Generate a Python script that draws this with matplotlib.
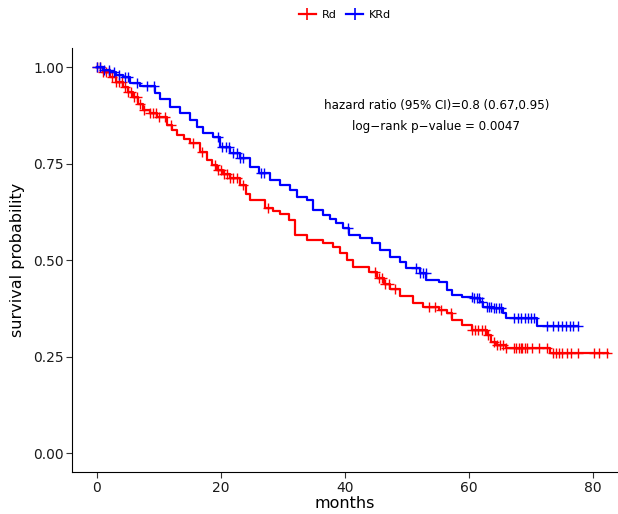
import numpy as np
import matplotlib
matplotlib.use("Agg")
import matplotlib.pyplot as plt

# step points of the Kaplan-Meier curves (months, survival)
rd_t = [0, 1.0, 2.1, 3.0, 4.2, 5.0, 5.8, 6.6, 7.4, 8.5, 9.7, 11.3, 12.1, 12.9, 14.0, 15.0,
        16.6, 17.7, 18.5, 19.3, 20.3, 21.4, 23.0, 24.0, 24.6, 27.1, 28.3, 29.5, 31.0,
        32.0, 33.8, 36.4, 38.0, 39.1, 40.3, 41.2, 43.9, 45.1, 46.2, 47.2, 48.8, 50.9,
        52.5, 55.2, 56.4, 57.3, 58.9, 60.5, 62.8, 63.6, 64.4, 66.0, 73.1]
rd_s = [1.0, 0.987, 0.974, 0.961, 0.948, 0.935, 0.922, 0.905, 0.889, 0.880, 0.870, 0.850,
        0.837, 0.824, 0.813, 0.803, 0.780, 0.759, 0.746, 0.733, 0.722, 0.712, 0.694, 0.672,
        0.655, 0.635, 0.627, 0.619, 0.604, 0.565, 0.552, 0.544, 0.534, 0.518, 0.500, 0.482,
        0.469, 0.453, 0.439, 0.425, 0.407, 0.389, 0.378, 0.370, 0.363, 0.345, 0.332, 0.319,
        0.306, 0.288, 0.280, 0.272, 0.259]
rd_end = 82.4

krd_t = [0, 1.0, 2.1, 3.1, 4.2, 5.3, 6.9, 9.3, 10.1, 11.8, 13.4, 15.0, 16.1, 17.1, 18.7,
         19.8, 21.4, 23.0, 24.6, 26.2, 27.9, 29.5, 31.1, 32.2, 33.8, 34.8, 36.4, 37.5,
         38.6, 39.6, 40.7, 42.4, 44.4, 45.6, 47.2, 48.8, 49.9, 52.0, 53.1, 55.2, 56.4,
         57.3, 58.9, 60.5, 61.7, 62.2, 63.8, 65.4, 66.0, 71.0]
krd_s = [1.0, 0.993, 0.987, 0.980, 0.974, 0.959, 0.951, 0.933, 0.917, 0.896, 0.881, 0.863,
         0.845, 0.829, 0.819, 0.793, 0.777, 0.764, 0.741, 0.725, 0.707, 0.694, 0.681, 0.663,
         0.655, 0.630, 0.617, 0.606, 0.595, 0.583, 0.565, 0.557, 0.544, 0.526, 0.508, 0.495,
         0.479, 0.466, 0.448, 0.443, 0.422, 0.409, 0.404, 0.402, 0.391, 0.378, 0.376, 0.363,
         0.350, 0.329]
krd_end = 77.5

# censoring times
rd_cens = [0, 0.5, 1, 1.5, 2, 2.5, 3, 3.5, 4, 4.5, 5, 5.5, 6, 6.5, 7, 7.5, 8.5, 9, 9.5, 10,
           11, 12, 15.5, 17, 19, 19.5, 20, 20.5, 21, 21.5, 22, 22.5, 23.5, 27.5, 44.8, 45.5,
           46, 46.5, 47, 48, 53.5, 54.5, 55.5, 57, 60.5, 61, 61.5, 62, 62.5, 63, 64, 64.5,
           65, 65.5, 66, 67.3, 67.6, 68, 68.3, 68.6, 69, 69.3, 70.2, 71.3, 72.5, 73.5, 74,
           74.5, 75, 75.7, 76.5, 77.5, 80.2, 81, 82.3]
krd_cens = [0, 0.5, 1.2, 2, 2.8, 3.5, 4.5, 5, 6.5, 8, 9.2, 19.5, 20.2, 20.8, 21.3, 22, 22.5,
            23, 23.5, 26.5, 27, 40.5, 51.5, 52, 52.5, 53, 60.4, 60.8, 61.2, 61.6, 62, 62.8,
            63.2, 63.6, 64, 64.4, 64.8, 65.2, 67.3, 67.8, 68.4, 69, 69.5, 70, 70.5, 72.6,
            73.5, 74.3, 75, 75.6, 76.2, 76.8, 77.5]


def surv_at(t, times, surv):
    idx = np.searchsorted(times, t, side='right') - 1
    return np.array(surv)[idx]


fig = plt.figure(figsize=(6.18, 5.14), dpi=100)
ax = fig.add_axes([0.1168, 0.0811, 0.8832, 0.826])

groups = [('Rd', rd_t, rd_s, rd_end, rd_cens, '#FF0000'),
          ('KRd', krd_t, krd_s, krd_end, krd_cens, '#0000FF')]
handles = []
for name, t, s, end, cens, col in groups:
    ax.step(t + [end], s + [s[-1]], where='post', color=col, lw=1.6)
    ax.plot(cens, surv_at(cens, t, s), ls='none', marker='+', ms=6.5, mew=1.0, color=col)
    h, = ax.plot([], [], color=col, lw=1.6, marker='+', ms=8, mew=1.2)
    handles.append(h)

ax.set_xlim(-4, 84)
ax.set_ylim(-0.05, 1.05)
ax.set_xticks([0, 20, 40, 60, 80])
ax.set_yticks([0, 0.25, 0.5, 0.75, 1.0])
ax.set_yticklabels(['0.00', '0.25', '0.50', '0.75', '1.00'])
ax.tick_params(labelsize=10, length=4, pad=2, color='#333333', labelcolor='#1a1a1a')
for side in ['top', 'right']:
    ax.spines[side].set_visible(False)
ax.set_xlabel('months', fontsize=11.5, labelpad=1)
ax.set_ylabel('survival probability', fontsize=11.5, labelpad=6)

ax.text(54.7, 0.90, 'hazard ratio (95% CI)=0.8 (0.67,0.95)', ha='center', va='center', fontsize=8.6)
ax.text(54.7, 0.847, 'log\u2212rank p\u2212value = 0.0047', ha='center', va='center', fontsize=8.6)

fig.legend(handles, ['Rd', 'KRd'], loc='center', bbox_to_anchor=(0.558, 0.971), ncol=2,
           frameon=False, fontsize=8, handlelength=1.6, columnspacing=0.8, handletextpad=0.5)

fig.savefig('out.png', dpi=100)
